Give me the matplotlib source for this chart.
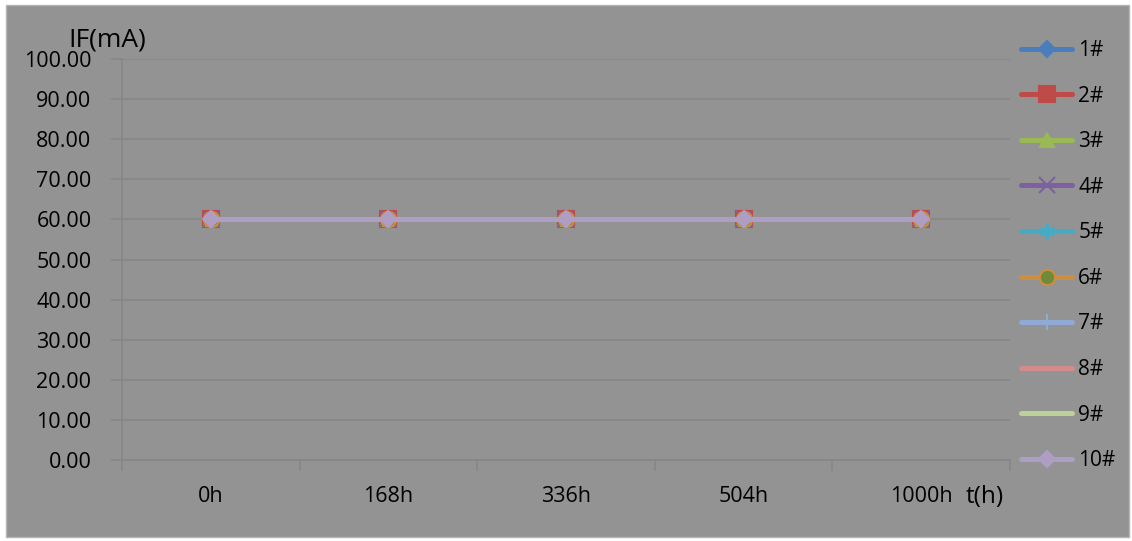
import matplotlib
matplotlib.use("Agg")
import matplotlib.pyplot as plt
from matplotlib.patches import Rectangle

plt.rcParams['font.family'] = ['Open Sans', 'DejaVu Sans']

# data
times = ["0h", "168h", "336h", "504h", "1000h"]
series_names = ["1#", "2#", "3#", "4#", "5#", "6#", "7#", "8#", "9#", "10#"]
if_values = [
    [60.0, 60.0, 60.0, 60.0, 60.0],
    [60.0, 60.0, 60.0, 60.0, 60.0],
    [60.0, 60.0, 60.0, 60.0, 60.0],
    [60.0, 60.0, 60.0, 60.0, 60.0],
    [60.0, 60.0, 60.0, 60.0, 60.0],
    [60.0, 60.0, 60.0, 60.0, 60.0],
    [60.0, 60.0, 60.0, 60.0, 60.0],
    [60.0, 60.0, 60.0, 60.0, 60.0],
    [60.0, 60.0, 60.0, 60.0, 60.0],
    [60.0, 60.0, 60.0, 60.0, 60.0],
]
y_ticks = [0, 10, 20, 30, 40, 50, 60, 70, 80, 90, 100]

# styles
line_colors = ['#4A7EBB', '#BE4B48', '#98B954', '#7D60A0', '#46AAC5',
               '#CC8E40', '#8FAAD4', '#D38C8B', '#BCD196', '#AE9EC4']
markers = ['D', 's', '^', 'x', (6, 2, 0), 'o', '+', None, None, 'D']
marker_faces = ['#4A7EBB', '#BE4B48', '#98B954', '#7D60A0', '#46AAC5',
                '#6F8A38', '#8FAAD4', '#D38C8B', '#BCD196', '#AE9EC4']
marker_sizes = [8.5, 11, 10, 11, 11, 11, 12, 0, 0, 8.5]

bg = '#939393'
grid_c = '#868686'

fig = plt.figure(figsize=(11.32, 5.41), dpi=100)
fig.patch.set_facecolor('white')
fig.patches.append(Rectangle((6 / 1132, 4 / 541), 1123 / 1132, 532 / 541,
                             transform=fig.transFigure, facecolor=bg,
                             edgecolor='#b4b4b4', linewidth=1, zorder=-5))

ax = fig.add_axes([122 / 1132, 1 - 460 / 541, 888 / 1132, 401 / 541])
ax.set_facecolor('none')
ax.set_zorder(2)

x = list(range(len(times)))
for i, name in enumerate(series_names):
    ax.plot(x, if_values[i], color=line_colors[i], linewidth=3.6,
            marker=markers[i], markersize=marker_sizes[i],
            markerfacecolor=marker_faces[i], markeredgecolor=line_colors[i],
            markeredgewidth=1.5, label=name, solid_capstyle='round', zorder=3 + i)

ax.set_xlim(-0.5, len(times) - 0.5)
ax.set_ylim(0, 100)
ax.set_yticks(y_ticks)
ax.set_yticklabels(["%.2f" % v for v in y_ticks])
ax.yaxis.grid(True, color=grid_c, linewidth=1.2)
ax.set_axisbelow(True)

ax.set_xticks([i - 0.5 for i in range(len(times) + 1)])
ax.set_xticklabels([])
ax.set_xticks(x, minor=True)
ax.set_xticklabels(times, minor=True)
ax.tick_params(axis='x', which='minor', length=0, pad=19, labelsize=15.5)
ax.tick_params(axis='x', which='major', length=8, width=1.2, color=grid_c)
ax.tick_params(axis='y', length=8, width=1.2, color=grid_c, pad=14, labelsize=15.5)

for s in ['top', 'right']:
    ax.spines[s].set_visible(False)
for s in ['left', 'bottom']:
    ax.spines[s].set_color(grid_c)
    ax.spines[s].set_linewidth(1.2)

fig.text(107 / 1132, 1 - 40 / 541, "IF(mA)", fontsize=19, ha='center', va='center')
fig.text(985 / 1132, 1 - 497 / 541, "t(h)", fontsize=17.5, ha='center', va='center')

fig.legend(loc='upper left', bbox_to_anchor=(1021 / 1132, 1 - 40 / 541),
           frameon=False, fontsize=15, handlelength=2.45, handletextpad=0.3,
           labelspacing=1.18, borderpad=0, borderaxespad=0)

fig.savefig("out.png", dpi=100)
